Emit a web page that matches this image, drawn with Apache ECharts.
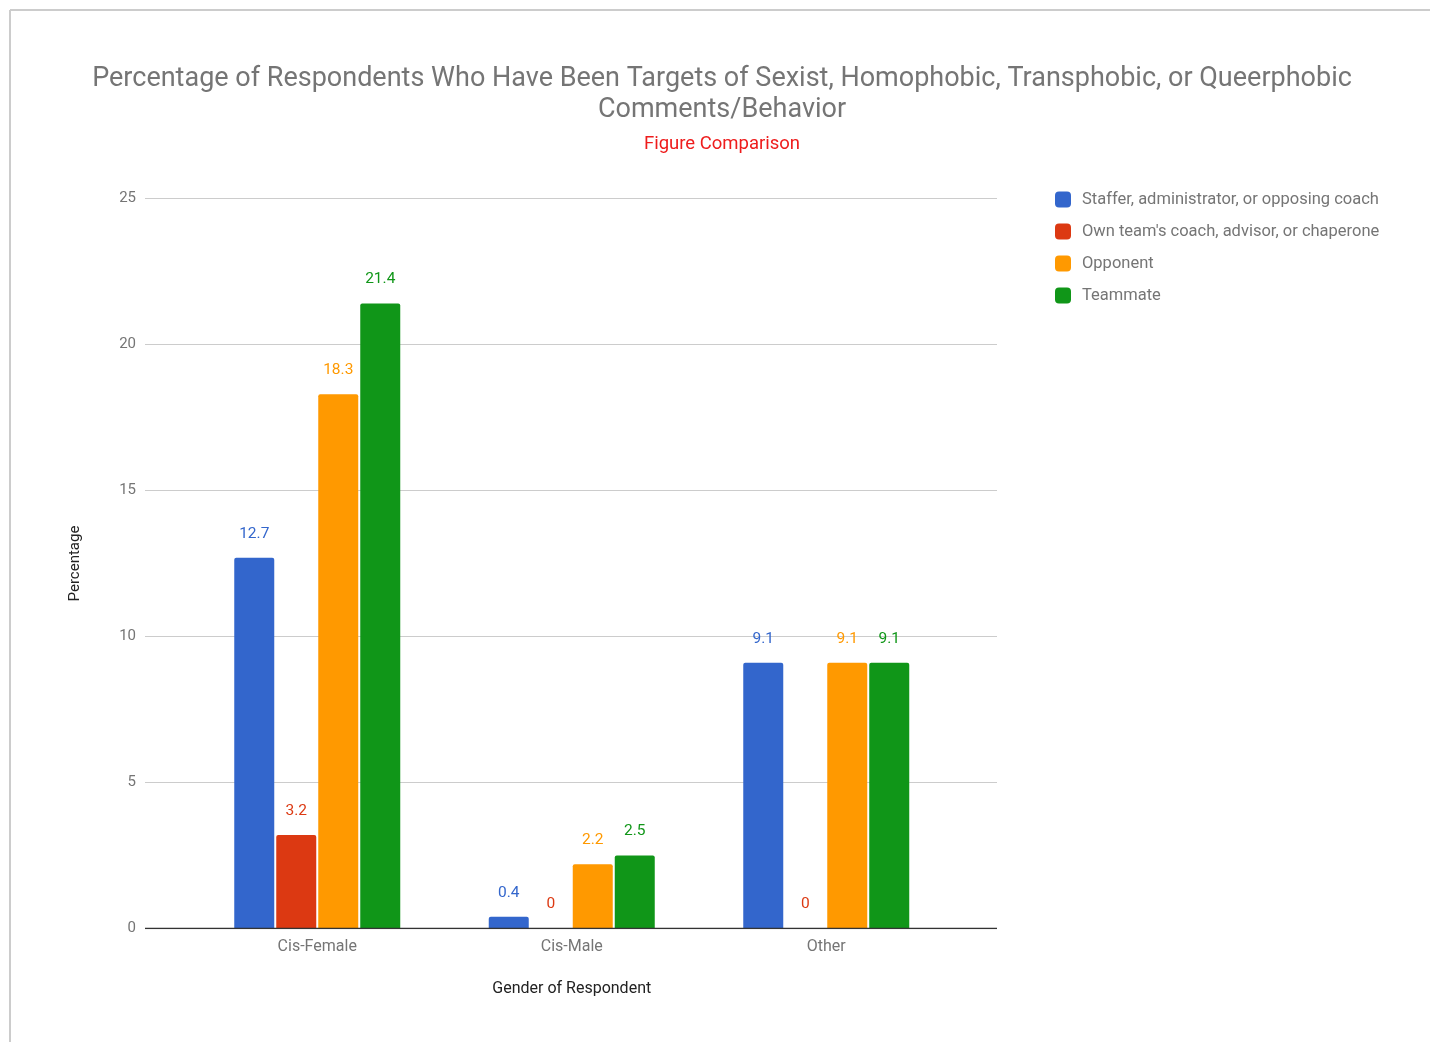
<!DOCTYPE html>
<html>
<head>
<meta charset="utf-8">
<script src="https://cdn.jsdelivr.net/npm/echarts@6/dist/echarts.min.js"></script>
<style>
html,body{margin:0;padding:0;background:#fff;}
#chart{width:1430px;height:1042px;}
</style>
</head>
<body>
<div id="chart"></div>
<script>
const categories = ['Cis-Female', 'Cis-Male', 'Other'];
const seriesNames = [
  'Staffer, administrator, or opposing coach',
  "Own team's coach, advisor, or chaperone",
  'Opponent',
  'Teammate'
];
const staffer = [12.7, 0.4, 9.1];
const ownCoach = [3.2, 0, 0];
const opponent = [18.3, 2.2, 9.1];
const teammate = [21.4, 2.5, 9.1];
const yTicks = [0, 5, 10, 15, 20, 25];

const colors = ['#3366cc', '#dc3912', '#ff9900', '#109618'];
const values = [staffer, ownCoach, opponent, teammate];
const FONT = 'Roboto, "Noto Sans", sans-serif';

const chart = echarts.init(document.getElementById('chart'), null, {renderer: 'canvas'});

const series = seriesNames.map((name, i) => ({
  name: name,
  type: 'bar',
  xAxisIndex: 1,
  yAxisIndex: 1,
  data: values[i],
  barWidth: 40,
  barGap: '5%',
  itemStyle: {color: colors[i], borderRadius: [2, 2, 0, 0]},
  label: {
    show: true,
    position: 'top',
    distance: 16,
    color: colors[i],
    fontFamily: FONT,
    fontSize: 15.5
  }
}));

chart.setOption({
  animation: false,
  textStyle: {fontFamily: FONT},
  title: [
    {
      text: 'Percentage of Respondents Who Have Been Targets of Sexist, Homophobic, Transphobic, or Queerphobic\nComments/Behavior',
      left: 717,
      top: 59,
      textAlign: 'center',
      textStyle: {color: '#757575', fontSize: 27, fontWeight: 'normal', fontFamily: FONT, lineHeight: 31}
    },
    {
      text: 'Figure Comparison',
      left: 717,
      top: 130,
      textAlign: 'center',
      textStyle: {color: '#ee1c1c', fontSize: 18.5, fontWeight: 'normal', fontFamily: FONT}
    }
  ],
  legend: {
    orient: 'vertical',
    left: 1050,
    top: 186,
    itemWidth: 16,
    itemHeight: 16,
    itemGap: 15,
    icon: 'roundRect',
    data: seriesNames,
    textStyle: {color: '#757575', fontSize: 16.5, fontFamily: FONT, padding: [0, 0, 0, 6]}
  },
  graphic: [
    {type: 'line', shape: {x1: 10, y1: 10, x2: 1430, y2: 10}, style: {stroke: '#cccccc', lineWidth: 2}, silent: true},
    {type: 'line', shape: {x1: 10, y1: 10, x2: 10, y2: 1042}, style: {stroke: '#cccccc', lineWidth: 2}, silent: true}
  ],
  grid: [
    {left: 145, right: 433, top: 198.5, bottom: 113.5, containLabel: false},
    {left: 190, width: 763.5, top: 198.5, bottom: 113.5, containLabel: false}
  ],
  xAxis: [
    {
      type: 'value', gridIndex: 0, min: 0, max: 1,
      axisLine: {show: false}, axisTick: {show: false}, axisLabel: {show: false}, splitLine: {show: false}
    },
    {
      type: 'category', gridIndex: 1, data: categories,
      axisLine: {show: false}, axisTick: {show: false},
      axisLabel: {color: '#757575', fontSize: 16, fontFamily: FONT, margin: 10},
      name: 'Gender of Respondent', nameLocation: 'middle', nameGap: 52,
      nameTextStyle: {color: '#222222', fontSize: 16, fontFamily: FONT}
    }
  ],
  yAxis: [
    {
      type: 'value', gridIndex: 0, min: yTicks[0], max: yTicks[yTicks.length - 1], interval: 5,
      axisLine: {show: false}, axisTick: {show: false},
      axisLabel: {color: '#757575', fontSize: 15, fontFamily: FONT, margin: 9},
      splitLine: {lineStyle: {color: '#cccccc', width: 1}},
      name: 'Percentage', nameLocation: 'middle', nameGap: 62, nameRotate: 90,
      nameTextStyle: {color: '#222222', fontSize: 15, fontFamily: FONT}
    },
    {
      type: 'value', gridIndex: 1, min: yTicks[0], max: yTicks[yTicks.length - 1], interval: 5,
      show: false
    }
  ],
  series: series.concat([{
    type: 'line',
    xAxisIndex: 0, yAxisIndex: 0,
    data: [[0, 0], [1, 0]],
    symbol: 'none',
    silent: true,
    lineStyle: {color: '#333333', width: 1.5},
    z: 5
  }])
});
</script>
</body>
</html>
